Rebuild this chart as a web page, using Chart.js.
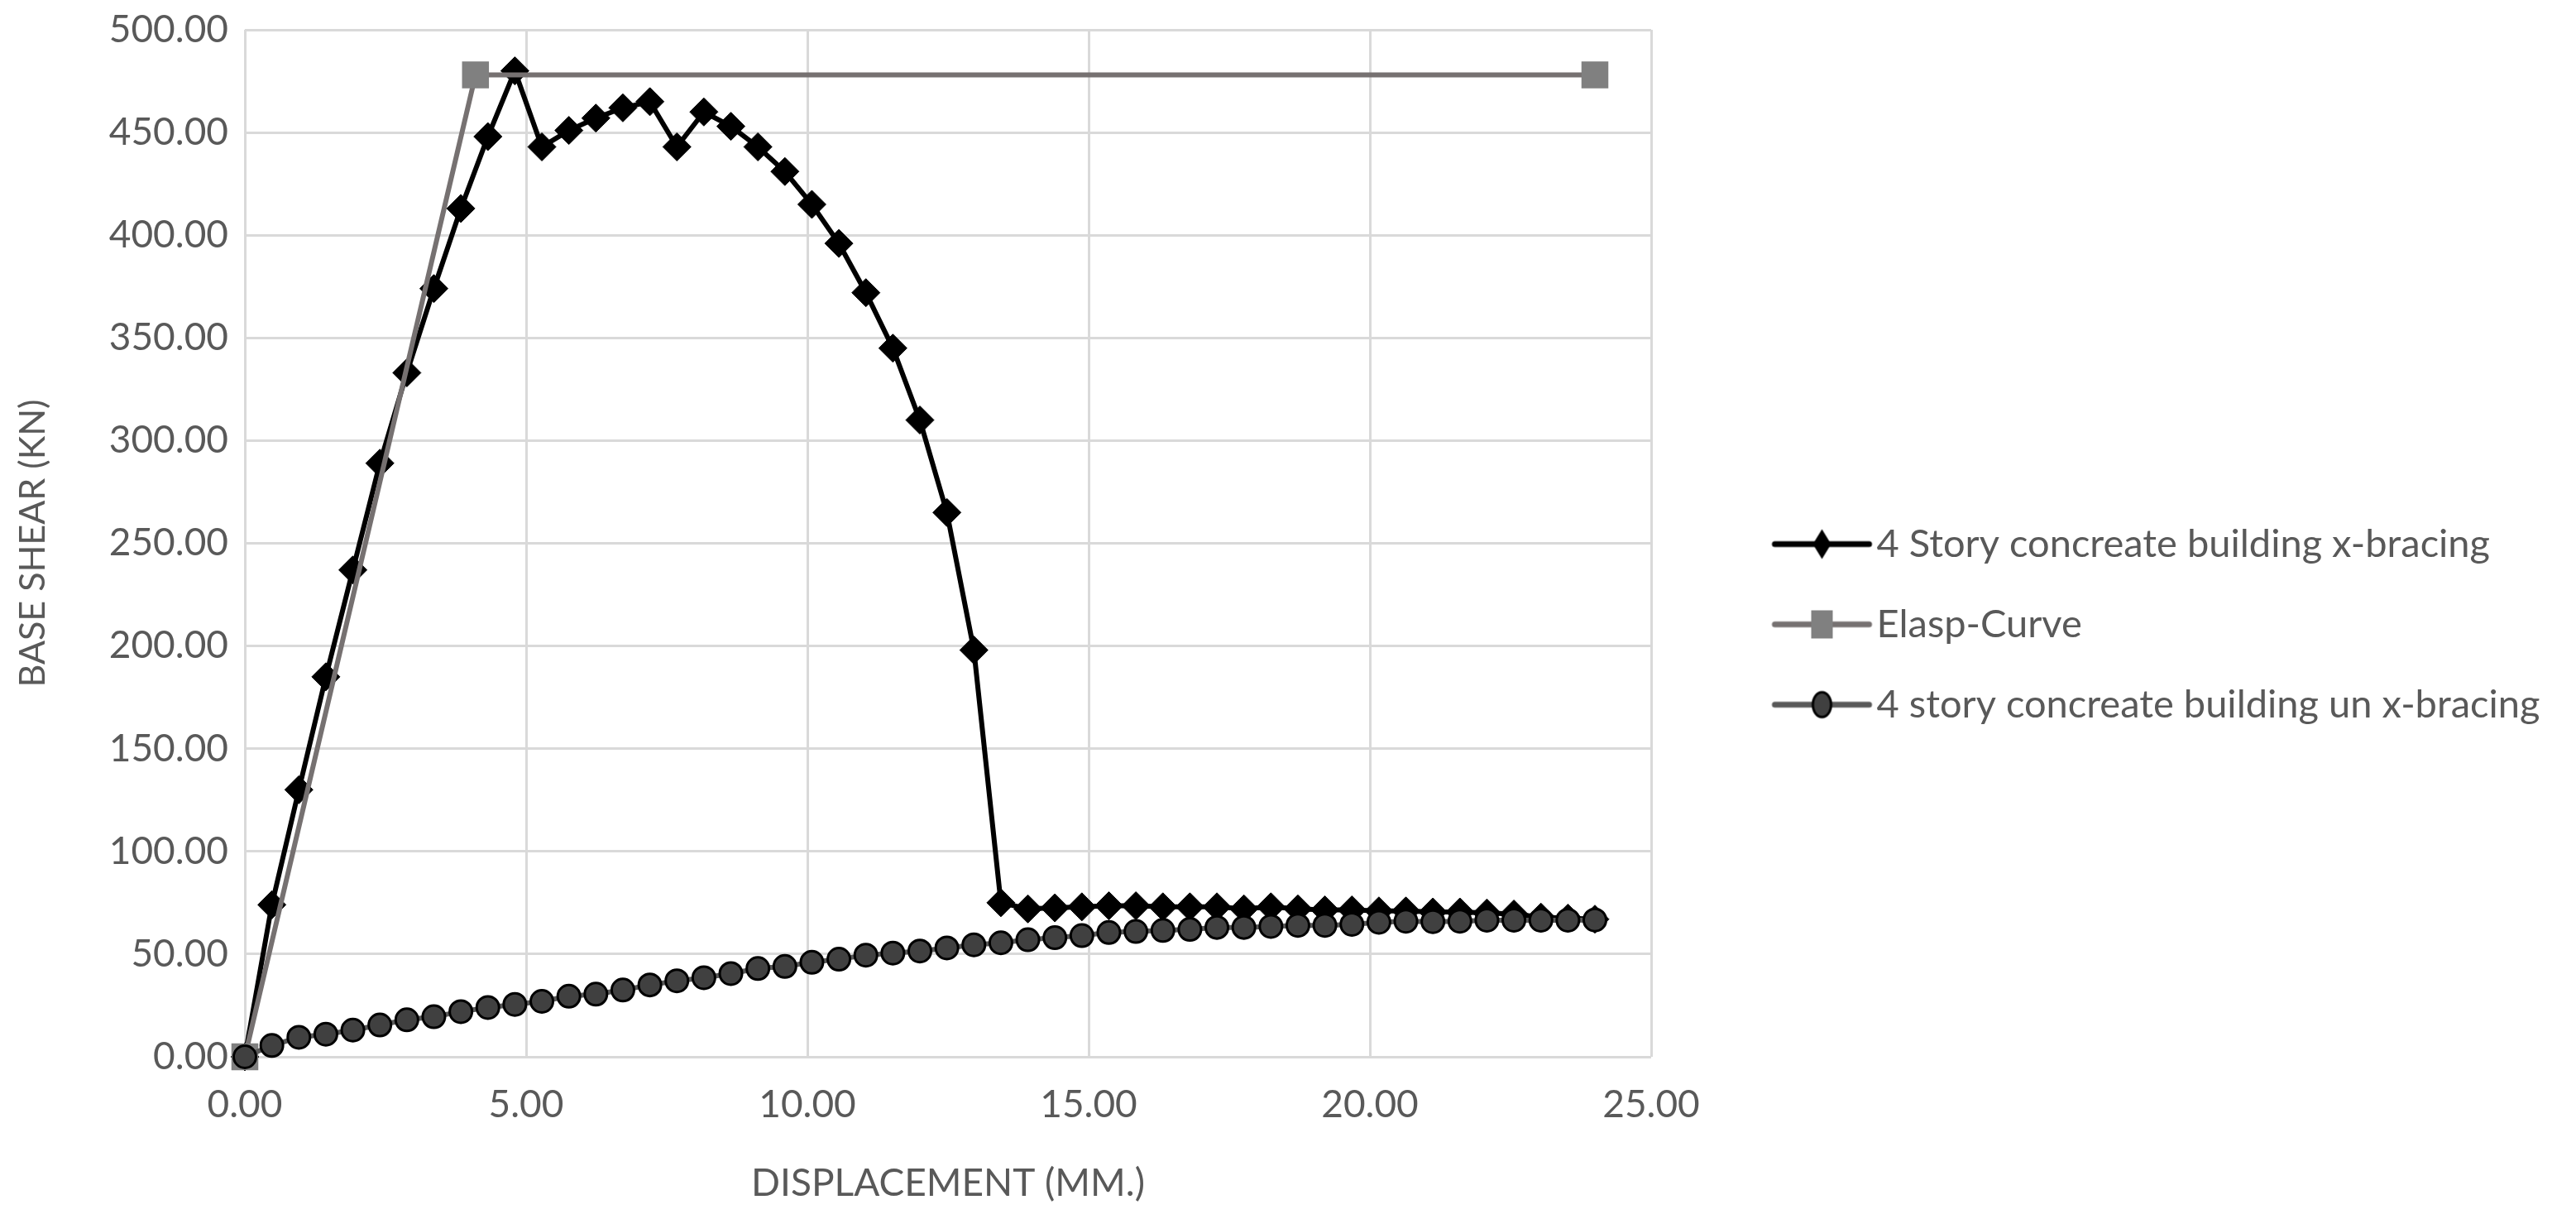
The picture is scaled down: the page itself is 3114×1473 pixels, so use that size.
<!DOCTYPE html>
<html>
<head>
<meta charset="utf-8">
<script src="https://cdn.jsdelivr.net/npm/chart.js"></script>
<style>
	html, body { margin: 0; padding: 0; background: #fff; }
	#wrap { width: 3114px; height: 1473px; }
</style>
</head>
<body>
<div id="wrap"><canvas id="myChart"></canvas></div>

<script type="text/javascript">

	// displacement (mm), shared by both pushover curves
	var displacement = [0.00, 0.48, 0.96, 1.44, 1.92, 2.40, 2.88, 3.36, 3.84, 4.32,
		4.80, 5.28, 5.76, 6.24, 6.72, 7.20, 7.68, 8.16, 8.64, 9.12,
		9.60, 10.08, 10.56, 11.04, 11.52, 12.00, 12.48, 12.96, 13.44, 13.92,
		14.40, 14.88, 15.36, 15.84, 16.32, 16.80, 17.28, 17.76, 18.24, 18.72,
		19.20, 19.68, 20.16, 20.64, 21.12, 21.60, 22.08, 22.56, 23.04, 23.52, 24.00]

	// base shear (kN) - 4 story with x-bracing
	var shearBraced = [0, 74, 130, 185, 237, 289, 333, 374, 413, 448,
		480, 443, 451, 457, 462, 465, 443, 460, 453, 443,
		431, 415, 396, 372, 345, 310, 265, 198, 75, 72,
		72.5, 73, 73.5, 73.5, 73, 73, 73, 72, 73, 72,
		71.5, 71.5, 71, 71, 70.5, 70.5, 70, 69.5, 68, 67.5, 67]

	// base shear (kN) - 4 story without x-bracing
	var shearUnbraced = [0, 5.5, 9.5, 11, 13, 15.5, 18, 19.5, 22, 24,
		25.5, 27, 29.5, 30.5, 32.5, 35, 37, 38.5, 40.5, 43,
		44, 46, 47.5, 49.5, 50.5, 51.5, 53, 54.5, 55.5, 57,
		58, 59, 60.5, 61, 61.5, 62, 63, 63, 63.5, 64,
		64, 64.5, 65.5, 66, 65.8, 66, 66.5, 66.5, 66.5, 66.5, 66.6]

	// elasto-plastic idealisation
	var elaspX = [0, 4.1, 24.0]
	var elaspY = [0, 478, 478]

	var seriesNames = ['4 Story concreate building x-bracing', 'Elasp-Curve', '4 story concreate building un x-bracing']

	function pts(xs, ys){
		return xs.map(function(x, i){ return {x: x, y: ys[i]} })
	}

	// little line+marker samples for the legend, like the spreadsheet legend
	function legendIcon(lineColor, marker){
		var c = document.createElement('canvas')
		c.width = 124; c.height = 50
		var g = c.getContext('2d')
		g.strokeStyle = lineColor
		g.lineWidth = 7
		g.lineCap = 'round'
		g.beginPath(); g.moveTo(5, 25); g.lineTo(119, 25); g.stroke()
		marker(g, 62, 25)
		return c
	}

	var icons = [
		legendIcon('#000000', function(g, x, y){
			g.fillStyle = '#000'
			g.beginPath(); g.moveTo(x, y - 18); g.lineTo(x + 11, y); g.lineTo(x, y + 18); g.lineTo(x - 11, y); g.closePath(); g.fill()
		}),
		legendIcon('#767171', function(g, x, y){
			g.fillStyle = '#808080'
			g.fillRect(x - 13, y - 17, 26, 34)
		}),
		legendIcon('#595959', function(g, x, y){
			g.fillStyle = '#404040'; g.strokeStyle = '#000'; g.lineWidth = 3
			g.beginPath(); g.ellipse(x, y, 11, 15, 0, 0, Math.PI * 2); g.fill(); g.stroke()
		})
	]

	var LEGEND_W = 1118      // chart area ends at 3114 - 1118
	var LEGEND_X = 2160      // left of the legend "box" slot
	var LEGEND_DY = 0

	var legendPlacer = {
		id: 'legendPlacer',
		beforeLayout: function(chart){
			var lg = chart.legend
			if (lg && !lg._patched){
				var fit = lg.fit
				lg.fit = function(){ fit.call(this); this.width = LEGEND_W }
				lg._patched = true
			}
		},
		afterLayout: function(chart){
			var lg = chart.legend
			lg.left = LEGEND_X - lg.options.labels.padding
			lg.top += LEGEND_DY
			lg.bottom += LEGEND_DY
		}
	}

	var txt = '#595959'
	var grid = '#d9d9d9'

	var cfg = {
		type: 'scatter',
		data: {
			datasets: [
				{
					label: seriesNames[0],
					data: pts(displacement, shearBraced),
					showLine: true,
					borderColor: '#000000',
					backgroundColor: '#000000',
					borderWidth: 6,
					pointStyle: 'rectRot',
					pointRadius: 17,
					pointBorderWidth: 1,
					pointBorderColor: '#000000',
					pointBackgroundColor: '#000000',
					clip: false,
					order: 3
				},
				{
					label: seriesNames[1],
					data: pts(elaspX, elaspY),
					showLine: true,
					borderColor: '#767171',
					backgroundColor: '#808080',
					borderWidth: 6,
					pointStyle: 'rect',
					pointRadius: 23,
					pointBorderWidth: 0,
					pointBackgroundColor: '#808080',
					clip: false,
					order: 2
				},
				{
					label: seriesNames[2],
					data: pts(displacement, shearUnbraced),
					showLine: true,
					borderColor: '#595959',
					backgroundColor: '#404040',
					borderWidth: 6,
					pointStyle: 'circle',
					pointRadius: 13.5,
					pointBorderWidth: 3,
					pointBorderColor: '#000000',
					pointBackgroundColor: '#404040',
					clip: false,
					order: 1
				}
			]
		},
		options: {
			responsive: true,
			maintainAspectRatio: false,
			animation: false,
			layout: { padding: { top: 36, left: 0, right: 0, bottom: 0 } },
			scales: {
				x: {
					type: 'linear',
					min: 0, max: 25,
					afterFit: function(s){ s.height = 196 },
					border: { display: false },
					grid: { color: grid, lineWidth: 3, drawTicks: false },
					ticks: {
						stepSize: 5,
						padding: 31,
						color: txt,
						font: { family: 'Lato', size: 46 },
						callback: function(v){ return v.toFixed(2) }
					},
					title: {
						display: true,
						text: 'DISPLACEMENT (MM.)',
						color: txt,
						font: { family: 'Lato', size: 46 },
						padding: { top: 15, bottom: 15 }
					}
				},
				y: {
					min: 0, max: 500,
					afterFit: function(s){ s.width = 296; s.paddingTop = 0; s.paddingBottom = 0 },
					border: { display: false },
					grid: { color: grid, lineWidth: 3, drawTicks: false },
					ticks: {
						stepSize: 50,
						padding: 20,
						color: txt,
						font: { family: 'Lato', size: 46 },
						callback: function(v){ return v.toFixed(2) }
					},
					title: {
						display: true,
						text: 'BASE SHEAR (KN)',
						color: txt,
						font: { family: 'Lato', size: 43 },
						padding: { top: 14, bottom: 14 }
					}
				}
			},
			plugins: {
				tooltip: { enabled: false },
				legend: {
					position: 'right',
					labels: {
						usePointStyle: true,
						pointStyleWidth: 85,
						padding: 50,
						color: txt,
						font: { family: 'Lato', size: 47 },
						generateLabels: function(chart){
							return chart.data.datasets.map(function(ds, i){
								return {
									text: ds.label,
									pointStyle: icons[i],
									datasetIndex: i,
									hidden: false,
									lineWidth: 0,
									fillStyle: 'rgba(0,0,0,0)',
									strokeStyle: 'rgba(0,0,0,0)',
									fontColor: txt
								}
							})
						}
					}
				}
			}
		},
		plugins: [legendPlacer]
	}

	new Chart(document.getElementById('myChart'), cfg)

</script>
</body>
</html>
